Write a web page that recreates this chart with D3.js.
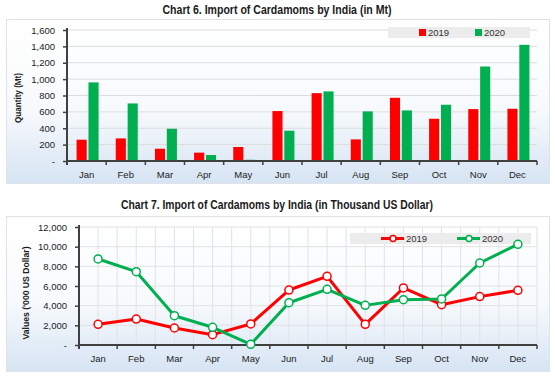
<!DOCTYPE html>
<html>
<head>
<meta charset="utf-8">
<script src="https://cdn.jsdelivr.net/npm/d3@7"></script>
<style>
  body { margin: 0; background: #fff; }
  text { font-family: "Liberation Sans", Arial, sans-serif; }
</style>
</head>
<body>
<div id="chart"></div>
<script>
// data
var months = ["Jan", "Feb", "Mar", "Apr", "May", "Jun", "Jul", "Aug", "Sep", "Oct", "Nov", "Dec"];
var seriesNames = ["2019", "2020"];
var qty2019 = [260, 276, 150, 102, 171, 610, 829, 264, 772, 516, 634, 638];
var qty2020 = [960, 703, 394, 73, 15, 370, 850, 606, 618, 687, 1154, 1419];
var qtyTicks = [0, 200, 400, 600, 800, 1000, 1200, 1400, 1600];
var val2019 = [2100, 2640, 1730, 1050, 2140, 5590, 6980, 2100, 5800, 4100, 4920, 5560];
var val2020 = [8750, 7460, 2980, 1800, 70, 4300, 5660, 4030, 4610, 4680, 8340, 10240];
var valTicks = [0, 2000, 4000, 6000, 8000, 10000, 12000];
var colors = ["#ff0000", "#00b050"];

var W = 555, H = 379;
var svg = d3.select("#chart").append("svg")
    .attr("width", W)
    .attr("height", H);

var defs = svg.append("defs");
var grad = defs.append("linearGradient")
    .attr("id", "panelGrad")
    .attr("x1", 0).attr("y1", 0).attr("x2", 0).attr("y2", 1);
grad.append("stop").attr("offset", "0%").attr("stop-color", "#ffffff");
grad.append("stop").attr("offset", "55%").attr("stop-color", "#f7fafd");
grad.append("stop").attr("offset", "100%").attr("stop-color", "#d6e4f3");

var fmt = function(d) { return d === 0 ? "-" : d3.format(",")(d); };

function panel(y0, y1) {
    svg.append("rect")
        .attr("x", 6.5).attr("y", y0 + 0.5)
        .attr("width", 543).attr("height", y1 - y0)
        .style("fill", "url(#panelGrad)")
        .style("stroke", "#dfe3e8")
        .style("stroke-width", "1px");
}

function title(txt, cx, cy, len) {
    svg.append("text")
        .attr("x", cx).attr("y", cy)
        .attr("text-anchor", "middle")
        .attr("dominant-baseline", "middle")
        .attr("textLength", len)
        .attr("lengthAdjust", "spacingAndGlyphs")
        .text(txt)
        .style("font-size", "12px")
        .style("font-weight", "bold")
        .style("fill", "#1a1a1a");
}

function yLabel(txt, x, cy, len) {
    svg.append("text")
        .attr("transform", "translate(" + x + "," + cy + ") rotate(-90)")
        .attr("text-anchor", "middle")
        .attr("dominant-baseline", "middle")
        .attr("textLength", len)
        .attr("lengthAdjust", "spacingAndGlyphs")
        .text(txt)
        .style("font-size", "9px")
        .style("font-weight", "bold")
        .style("fill", "#1a1a1a");
}

function axes(g, x, y, ticks, left, right, top, bottom) {
    // y axis
    var ya = g.append("g").attr("transform", "translate(" + left + ",0)")
        .call(d3.axisLeft(y).tickValues(ticks).tickFormat(fmt).tickSize(4).tickPadding(8));
    ya.select(".domain").remove();
    ya.selectAll("line").style("stroke", "#404040").style("stroke-width", "1.5px");
    ya.selectAll("text").style("font-size", "9.5px").style("fill", "#222")
        .style("font-family", "'Liberation Sans', Arial, sans-serif");
    g.append("line")
        .attr("x1", left).attr("x2", left)
        .attr("y1", top - 2).attr("y2", bottom + 4)
        .style("stroke", "#404040").style("stroke-width", "2px");

    // x axis with ticks at category boundaries
    var bounds = d3.range(months.length + 1).map(function(i) { return left + i * x.step(); });
    g.append("line")
        .attr("x1", left).attr("x2", right)
        .attr("y1", bottom).attr("y2", bottom)
        .style("stroke", "#404040").style("stroke-width", "2px");
    g.selectAll(".xt").data(bounds).enter().append("line")
        .attr("x1", function(d) { return d; }).attr("x2", function(d) { return d; })
        .attr("y1", bottom).attr("y2", bottom + 4)
        .style("stroke", "#404040").style("stroke-width", "1.5px");
    g.selectAll(".ml").data(months).enter().append("text")
        .attr("x", function(d) { return x(d) + x.bandwidth() / 2; })
        .attr("y", bottom + 14)
        .attr("text-anchor", "middle")
        .attr("dominant-baseline", "middle")
        .text(function(d) { return d; })
        .style("font-size", "9.5px")
        .style("fill", "#222");
}

// ---------------- Chart 6 : bars ----------------
panel(19, 183);
title("Chart 6. Import of Cardamoms by India (in Mt)", 277, 11, 229);
yLabel("Quantity (Mt)", 19, 98, 50);

var c1 = { left: 67, right: 537, top: 30, bottom: 161 };
var x1 = d3.scaleBand().domain(months).range([c1.left, c1.right]).paddingInner(0).paddingOuter(0);
var y1 = d3.scaleLinear().domain([0, 1600]).range([c1.bottom, c1.top]);
var g1 = svg.append("g");

g1.selectAll(".grid").data(qtyTicks.slice(1)).enter().append("line")
    .attr("x1", c1.left).attr("x2", c1.right)
    .attr("y1", function(d) { return y1(d); }).attr("y2", function(d) { return y1(d); })
    .style("stroke", "#dcdcdc").style("stroke-width", "1px");

// legend 1
g1.append("rect").attr("x", 388).attr("y", 27).attr("width", 142).attr("height", 11)
    .style("fill", "#ececec");
seriesNames.forEach(function(s, i) {
    var lx = [419, 475][i];
    g1.append("rect").attr("x", lx).attr("y", 29).attr("width", 7).attr("height", 7)
        .style("fill", colors[i]);
    g1.append("text").attr("x", lx + 9).attr("y", 33)
        .attr("dominant-baseline", "middle")
        .text(s).style("font-size", "9.5px").style("fill", "#333");
});

var xs = d3.scaleBand().domain(seriesNames).range([0, 22]).paddingInner(0.15);
[qty2019, qty2020].forEach(function(vals, si) {
    g1.selectAll(".bar" + si).data(vals).enter().append("rect")
        .attr("x", function(d, i) { return x1(months[i]) + x1.bandwidth() / 2 - 10 + xs(seriesNames[si]); })
        .attr("y", function(d) { return y1(d); })
        .attr("width", xs.bandwidth())
        .attr("height", function(d) { return c1.bottom - y1(d); })
        .style("fill", colors[si]);
});
axes(g1, x1, y1, qtyTicks, c1.left, c1.right, c1.top, c1.bottom);

// ---------------- Chart 7 : lines ----------------
panel(216, 371);
title("Chart 7. Import of Cardamoms by India (in Thousand US Dollar)", 277, 206, 312);
yLabel("Values ('000 US Dollar)", 27, 293, 93);

var c2 = { left: 79, right: 537, top: 227, bottom: 345 };
var x2 = d3.scaleBand().domain(months).range([c2.left, c2.right]);
var y2 = d3.scaleLinear().domain([0, 12000]).range([c2.bottom, c2.top]);
var g2 = svg.append("g");

// square grid: horizontal at ticks, vertical at half-category steps
g2.selectAll(".hg").data(valTicks.slice(1)).enter().append("line")
    .attr("x1", c2.left).attr("x2", c2.right)
    .attr("y1", function(d) { return y2(d); }).attr("y2", function(d) { return y2(d); })
    .style("stroke", "#e2e2e2").style("stroke-width", "1px");
g2.selectAll(".vg").data(d3.range(1, months.length * 2 + 1)).enter().append("line")
    .attr("x1", function(d) { return c2.left + d * x2.step() / 2; })
    .attr("x2", function(d) { return c2.left + d * x2.step() / 2; })
    .attr("y1", c2.top).attr("y2", c2.bottom)
    .style("stroke", "#e2e2e2").style("stroke-width", "1px");

// legend 2
g2.append("rect").attr("x", 350).attr("y", 233).attr("width", 181).attr("height", 11)
    .style("fill", "#ececec");
seriesNames.forEach(function(s, i) {
    var lx = [381, 457][i];
    g2.append("line").attr("x1", lx).attr("x2", lx + 23).attr("y1", 238.5).attr("y2", 238.5)
        .style("stroke", colors[i]).style("stroke-width", "3px");
    g2.append("circle").attr("cx", lx + 12).attr("cy", 238.5).attr("r", 3)
        .style("fill", "#fff").style("stroke", colors[i]).style("stroke-width", "1.5px");
    g2.append("text").attr("x", lx + 25).attr("y", 239)
        .attr("dominant-baseline", "middle")
        .text(s).style("font-size", "9.5px").style("fill", "#333");
});

axes(g2, x2, y2, valTicks, c2.left, c2.right, c2.top, c2.bottom);

var line = d3.line()
    .x(function(d, i) { return x2(months[i]) + x2.bandwidth() / 2; })
    .y(function(d) { return y2(d); });

[val2019, val2020].forEach(function(vals, si) {
    g2.append("path").datum(vals)
        .attr("d", line)
        .style("fill", "none")
        .style("stroke", colors[si])
        .style("stroke-width", "3px")
        .style("stroke-linejoin", "round");
});
[val2019, val2020].forEach(function(vals, si) {
    g2.selectAll(".pt" + si).data(vals).enter().append("circle")
        .attr("cx", function(d, i) { return x2(months[i]) + x2.bandwidth() / 2; })
        .attr("cy", function(d) { return y2(d); })
        .attr("r", 4)
        .style("fill", "#fff")
        .style("stroke", colors[si])
        .style("stroke-width", "1.5px");
});
</script>
</body>
</html>
